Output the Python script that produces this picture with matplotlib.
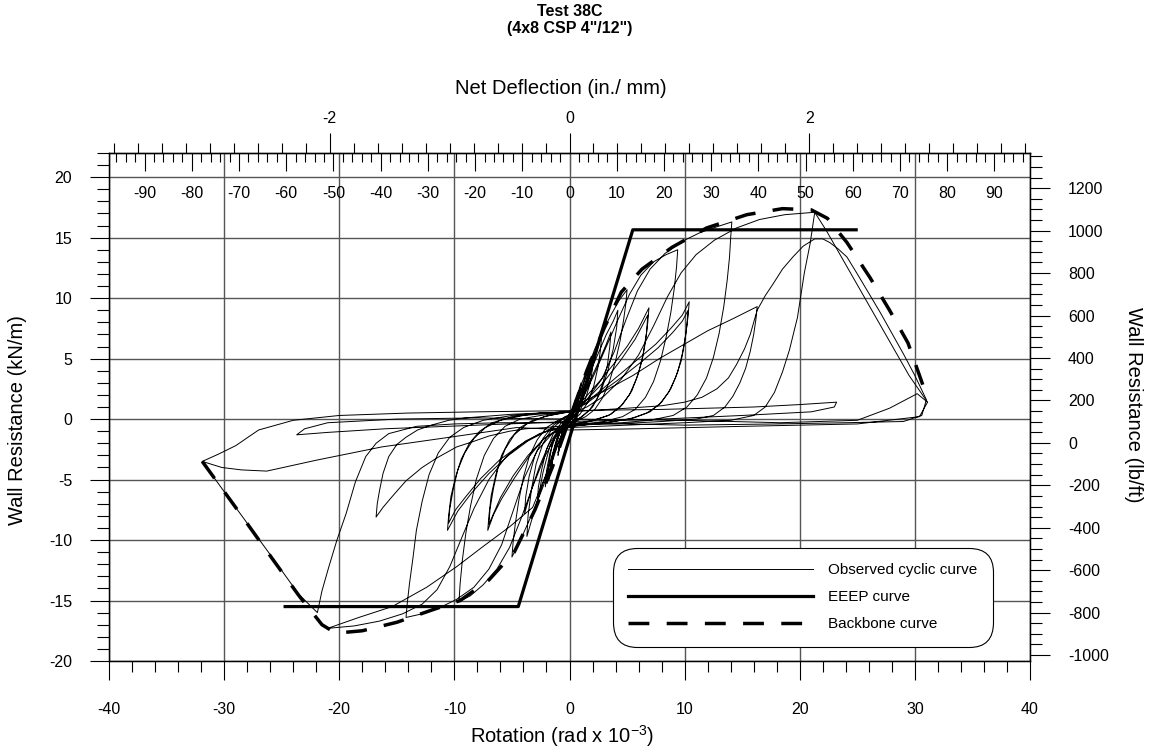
import numpy as np
import matplotlib.pyplot as plt
from matplotlib.ticker import MultipleLocator

plt.rcParams['font.family'] = ['Liberation Sans', 'DejaVu Sans']
plt.rcParams['mathtext.default'] = 'regular'
plt.rcParams['axes.unicode_minus'] = False

# wall height used to turn rotation into net deflection
WALL_H_MM = 2438.4

# cyclic test record, one list per cycle (rotation x1e-3 rad, kN/m)
loop_a = [(0, 0), (0.5, 1.6), (0.3, 0.5), (0, -0.1), (-0.3, -0.4), (-0.5, -1.5), (-0.3, -0.4), (0, 0.1),
          (0.5, 1.5), (0.3, 0.4), (-0.2, -0.3), (-0.5, -1.4), (-0.2, -0.2), (0.1, 0.2)]
loop_b = [(0.5, 1.4), (1.0, 3.0), (0.7, 1.3), (0.3, 0.3), (-0.3, -0.3), (-0.6, -1.2), (-1.0, -3.0),
          (-0.7, -1.3), (-0.3, -0.2), (0.2, 0.3), (0.6, 1.5), (1.0, 2.8), (0.6, 1.0), (0.1, 0.1),
          (-0.5, -0.5), (-1.0, -2.8), (-0.6, -1.0), (0, 0.2)]
loop_c = [(0.8, 1.8), (1.4, 3.6), (1.8, 5.0), (1.5, 3.0), (1.0, 1.2), (0.4, 0.2), (-0.4, -0.3),
          (-1.0, -1.4), (-1.5, -3.4), (-1.8, -5.0), (-1.5, -3.0), (-1.0, -1.2), (-0.4, -0.1), (0.3, 0.4),
          (0.9, 1.9), (1.4, 3.4), (1.7, 4.6), (1.4, 2.6), (0.8, 0.8), (0, -0.2), (-0.8, -1.0),
          (-1.4, -3.0), (-1.7, -4.6), (-1.3, -2.4), (-0.7, -0.6), (0.1, 0.3)]
loop_d = [(1.0, 1.6), (1.9, 4.0), (2.4, 5.6), (2.8, 7.0), (2.7, 5.8), (2.5, 4.4), (2.1, 2.7), (1.6, 1.4),
          (0.9, 0.4), (0.2, -0.2), (-0.8, -0.7), (-1.7, -2.2), (-2.3, -4.4), (-2.8, -6.9), (-2.7, -5.6),
          (-2.4, -4.1), (-2.0, -2.5), (-1.4, -1.2), (-0.7, -0.3), (0, 0.2)]
loop_e = [(1.0, 1.2), (1.7, 3.2), (2.1, 5.4), (2.0, 4.2), (1.8, 3.0), (1.4, 1.7), (0.9, 0.7), (0.3, 0.1),
          (-0.7, -0.6), (-1.5, -2.0), (-2.1, -5.6), (-2.0, -4.3), (-1.7, -2.8), (-1.2, -1.4), (-0.6, -0.4),
          (0, 0.3)]
loop_f = [(0.5, 1.4), (1.0, 2.8), (1.6, 4.3), (2.2, 5.8), (3.0, 7.5), (3.6, 8.6), (4.3, 9.8), (5.0, 10.7),
          (4.9, 9.6), (4.7, 8.2), (4.4, 6.5), (4.0, 4.8), (3.5, 3.2), (2.9, 1.8), (2.2, 0.8), (1.4, 0.2),
          (0.5, -0.2), (-0.3, -0.6), (-0.9, -1.8), (-1.6, -3.8), (-2.3, -5.6), (-3.0, -7.3), (-3.7, -8.8),
          (-4.4, -10.3), (-5.0, -11.4), (-4.9, -10.2), (-4.7, -8.6), (-4.4, -6.7), (-4.0, -4.8),
          (-3.5, -3.1), (-2.8, -1.7), (-2.0, -0.7), (-1.0, -0.1), (0, 0.3)]
loop_f2 = [(0.6, 1.2), (1.4, 3.0), (2.3, 5.0), (3.2, 7.0), (3.8, 8.1), (4.2, 9.0), (4.1, 7.6), (3.8, 5.8),
           (3.3, 3.9), (2.7, 2.2), (2.0, 1.0), (1.1, 0.2), (0.2, -0.3), (-0.7, -1.3), (-1.5, -3.2),
           (-2.3, -5.3), (-3.0, -7.4), (-3.7, -9.7), (-3.6, -8.0), (-3.3, -5.8), (-2.9, -3.7),
           (-2.3, -2.0), (-1.5, -0.8), (-0.6, 0.0), (0.2, 0.4)]
loop_g = [(1.0, 1.6), (1.9, 3.4), (2.7, 5.1), (3.2, 6.2), (3.6, 7.2), (3.5, 6.0), (3.3, 4.5), (2.9, 3.0),
          (2.4, 1.7), (1.7, 0.7), (0.9, 0.1), (0, -0.3), (-0.9, -0.8), (-1.8, -2.1), (-2.6, -3.9),
          (-3.3, -5.8), (-3.9, -7.8), (-3.8, -6.4), (-3.5, -4.7), (-3.0, -3.0), (-2.3, -1.6), (-1.4, -0.5),
          (-0.4, 0.2), (0.4, 0.5)]
loop_h = [(1.2, 1.8), (2.2, 3.8), (3.2, 6.0), (4.2, 8.2), (5.2, 10.3), (6.2, 11.9), (7.3, 13.0),
          (8.4, 13.6), (9.4, 14.0), (9.3, 12.6), (9.1, 10.8), (8.8, 8.8), (8.4, 6.8), (7.9, 4.8),
          (7.3, 3.1), (6.6, 1.8), (5.7, 0.8), (4.6, 0.2), (3.0, -0.2), (1.5, -0.4), (0, -0.6),
          (-1.2, -1.4), (-2.2, -3.2), (-3.2, -5.6), (-4.2, -8.2), (-5.2, -10.6), (-6.3, -12.4),
          (-7.5, -13.7), (-8.6, -14.6), (-9.6, -15.1), (-9.5, -13.6), (-9.3, -11.6), (-9.0, -9.4),
          (-8.6, -7.2), (-8.1, -5.0), (-7.4, -3.0), (-6.6, -1.6), (-5.6, -0.6), (-4.3, 0.0),
          (-2.5, 0.3), (-1.0, 0.5), (0, 0.6)]
loop_i = [(1.2, 1.6), (2.5, 3.0), (3.8, 4.5), (5.0, 6.0), (6.0, 7.5), (6.9, 9.2), (6.8, 8.0), (6.6, 6.4),
          (6.3, 4.8), (5.8, 3.3), (5.2, 2.0), (4.4, 1.0), (3.4, 0.3), (2.0, -0.1), (0.5, -0.4),
          (-1.0, -0.8), (-2.3, -1.7), (-3.6, -3.2), (-4.8, -4.9), (-5.9, -6.6), (-6.6, -7.9),
          (-7.1, -9.2), (-7.0, -8.0), (-6.8, -6.3), (-6.4, -4.6), (-5.9, -3.0), (-5.2, -1.7),
          (-4.3, -0.7), (-3.2, -0.1), (-1.8, 0.3), (-0.5, 0.5), (0.5, 0.7)]
loop_i2 = [(1.5, 1.6), (3.0, 3.1), (4.4, 4.8), (5.7, 6.6), (6.8, 8.6), (6.7, 7.2), (6.4, 5.4), (6.0, 3.8),
           (5.4, 2.3), (4.6, 1.2), (3.6, 0.4), (2.2, -0.1), (0.7, -0.4), (-0.8, -0.8), (-2.2, -1.6),
           (-3.6, -3.0), (-4.9, -4.7), (-6.0, -6.5), (-7.0, -8.7), (-6.9, -7.4), (-6.6, -5.7),
           (-6.2, -4.0), (-5.6, -2.5), (-4.8, -1.3), (-3.7, -0.4), (-2.2, 0.2), (-0.7, 0.5), (0.4, 0.7)]
loop_j = [(1.5, 1.6), (2.8, 3.3), (3.9, 5.6), (4.9, 8.2), (5.9, 10.6), (7.0, 12.4), (8.3, 13.7),
          (9.8, 14.7), (11.3, 15.4), (12.8, 15.9), (14.1, 16.3), (14.0, 15.0), (13.9, 13.4),
          (13.7, 11.5), (13.4, 9.3), (13.0, 7.1), (12.5, 5.1), (11.9, 3.4), (11.1, 2.0), (10.2, 1.0),
          (9.0, 0.3), (7.0, -0.1), (4.5, -0.3), (2.0, -0.4), (0, -0.6), (-1.5, -1.2), (-2.8, -2.6),
          (-3.9, -4.8), (-4.9, -7.6), (-5.9, -10.4), (-7.0, -12.4), (-8.3, -13.9), (-9.8, -14.9),
          (-11.3, -15.6), (-12.8, -16.1), (-14.2, -16.4), (-14.1, -15.3), (-13.9, -13.6),
          (-13.6, -11.5), (-13.3, -9.2), (-12.8, -6.8), (-12.2, -4.6), (-11.4, -2.8), (-10.4, -1.5),
          (-9.2, -0.7), (-7.5, -0.1), (-5.0, 0.3), (-2.5, 0.5), (0, 0.6)]
loop_k = [(1.5, 1.4), (3.0, 2.6), (4.5, 3.8), (6.0, 5.0), (7.5, 6.2), (8.8, 7.5), (9.8, 8.6), (10.4, 9.7),
          (10.3, 8.5), (10.1, 7.0), (9.8, 5.4), (9.4, 3.9), (8.8, 2.5), (8.0, 1.4), (7.0, 0.6),
          (5.6, 0.1), (3.8, -0.2), (1.8, -0.4), (0, -0.5), (-1.8, -0.9), (-3.6, -1.8), (-5.3, -3.0),
          (-7.0, -4.5), (-8.5, -6.1), (-9.7, -7.6), (-10.6, -9.2), (-10.5, -8.0), (-10.3, -6.4),
          (-9.9, -4.8), (-9.4, -3.3), (-8.7, -2.0), (-7.8, -1.0), (-6.7, -0.3), (-5.0, 0.2),
          (-2.5, 0.5), (0, 0.6)]
loop_k2 = [(1.5, 1.3), (3.0, 2.4), (4.6, 3.5), (6.2, 4.7), (7.7, 5.9), (9.0, 7.2), (9.8, 8.1),
           (10.3, 9.0), (10.2, 7.8), (10.0, 6.3), (9.7, 4.8), (9.2, 3.4), (8.6, 2.2), (7.8, 1.2),
           (6.7, 0.5), (5.2, 0.0), (3.2, -0.3), (1.2, -0.5), (-0.8, -0.7), (-2.6, -1.2), (-4.4, -2.2),
           (-6.1, -3.4), (-7.7, -4.9), (-9.0, -6.4), (-9.9, -7.5), (-10.5, -8.6), (-10.4, -7.4),
           (-10.1, -5.8), (-9.7, -4.2), (-9.1, -2.8), (-8.3, -1.6), (-7.3, -0.7), (-6.0, -0.1),
           (-4.0, 0.3), (-1.5, 0.5), (0.5, 0.6)]
loop_l = [(1.5, 1.0), (3.0, 1.9), (4.5, 3.3), (6.0, 5.3), (7.3, 7.7), (8.5, 10.1), (9.7, 12.1),
          (11.0, 13.6), (12.6, 14.8), (14.5, 15.8), (16.5, 16.5), (18.7, 16.9), (21.3, 17.1),
          (20.9, 14.5), (20.4, 12.1), (19.8, 8.4), (19.1, 5.7), (18.5, 3.9), (17.8, 2.2), (17.0, 1.0),
          (16.0, 0.3), (14.0, -0.1), (10.0, -0.3), (5.0, -0.5), (0, -0.7), (-2.0, -1.0), (-3.8, -1.8),
          (-5.5, -3.1), (-7.0, -5.0), (-8.3, -7.4), (-9.4, -9.9), (-10.4, -12.2), (-11.5, -14.1),
          (-12.8, -15.3), (-14.5, -16.1), (-16.5, -16.7), (-18.7, -17.1), (-21.0, -17.3),
          (-18.3, -16.4), (-15.4, -15.5), (-12.4, -13.9), (-9.8, -12.2), (-7.6, -10.6), (-5.2, -8.9),
          (-3.2, -7.3), (-2.0, -4.5), (-1.0, -1.5), (0, 0.5)]
loop_m = [(0.9, 1.3), (3.0, 2.3), (5.5, 3.6), (7.8, 5.0), (10.0, 6.2), (12.0, 7.3), (14.2, 8.3),
          (16.3, 9.3), (16.2, 8.3), (16.0, 7.0), (15.7, 5.6), (15.3, 4.2), (14.8, 3.0), (14.2, 1.9),
          (13.5, 1.0), (12.5, 0.3), (11.0, 0.0), (8.0, -0.2), (4.0, -0.4), (0, -0.5), (-2.0, -0.7),
          (-3.8, -0.8), (-5.2, -1.0), (-7.0, -1.4), (-8.5, -1.9), (-9.8, -2.3), (-11.5, -3.2),
          (-12.8, -4.0), (-14.2, -5.1), (-15.4, -6.4), (-16.2, -7.3), (-16.8, -8.1), (-16.7, -7.0),
          (-16.5, -5.9), (-16.2, -4.5), (-15.7, -3.1), (-15.0, -2.1), (-14.2, -1.5), (-13.2, -0.9),
          (-12.0, -0.5), (-10.5, -0.1), (-9.0, 0.1), (-5.0, 0.4), (0, 0.6)]
loop_n = [(5.0, 0.9), (8.0, 1.1), (10.0, 1.4), (11.5, 1.8), (12.8, 2.5), (13.8, 3.4), (14.5, 4.5),
          (15.2, 5.8), (15.7, 7.0), (16.3, 9.0), (17.0, 10.2), (17.7, 11.2), (18.5, 12.4), (19.4, 13.4),
          (20.3, 14.3), (21.3, 14.9), (22.0, 14.9), (22.6, 14.6), (23.3, 14.1), (24.1, 13.4),
          (25.0, 12.0), (26.0, 10.4), (27.0, 8.8), (28.0, 7.1), (29.0, 5.4), (30.0, 3.6), (31.0, 1.6),
          (30.6, 0.3), (29.0, -0.2), (24.0, -0.3), (18.0, -0.4), (10.0, -0.5), (0, -0.3), (-6.0, -0.3),
          (-10.0, -0.4), (-13.3, -0.6), (-15.7, -1.2), (-16.8, -2.0), (-17.7, -3.1), (-18.6, -5.2),
          (-19.4, -7.8), (-20.2, -10.0), (-20.9, -12.2), (-21.5, -14.2), (-21.9, -16.0), (-23.5, -14.5),
          (-26.0, -11.2), (-29.0, -7.3), (-31.9, -3.5), (-30.5, -2.9), (-29.0, -2.2), (-27.0, -0.9),
          (-24.0, -0.1), (-20.0, 0.3), (-14.0, 0.5), (-8.0, 0.6), (0, 0.7)]
loop_o = [(8.0, 0.8), (16.0, 1.0), (20.0, 1.2), (23.2, 1.4), (23.0, 1.0), (21.0, 0.6), (15.0, 0.3),
          (8.0, 0.0), (0, -0.2), (-8.0, -0.5), (-16.0, -0.8), (-21.0, -1.1), (-23.7, -1.3), (-23.0, -0.8),
          (-21.0, -0.3), (-15.0, 0.0), (-8.0, 0.1), (0, 0.0)]
loop_p = [(10.0, -0.1), (18.3, -0.3), (25.0, -0.1), (27.8, 0.9), (30.2, 2.1), (31.1, 1.4), (30.4, 0.2),
          (25.0, -0.4), (15.0, -0.6), (6.0, -0.8), (0, -0.9), (-4.6, -0.7), (-10.4, -1.5), (-16.3, -2.3),
          (-22.0, -3.4), (-26.3, -4.3), (-28.5, -4.2), (-30.2, -4.0), (-31.9, -3.5)]
# strength loss past the peak on the first large excursion
peak_drop = [(21.3, 17.1), (22.3, 15.6), (23.5, 13.6), (25.0, 11.1), (26.5, 8.6), (28.0, 6.1),
             (29.5, 3.6), (31.1, 1.4)]

# equivalent energy elastic-plastic curve
eeep_rot = [-24.7, -4.45, 5.5, 24.9]
eeep_res = [-15.5, -15.5, 15.65, 15.65]

# backbone (envelope) curve
bb_rot = [-31.9, -29.0, -26.0, -23.5, -21.5, -20.3, -18.0, -15.0, -12.0, -9.5, -7.0, -4.8, -3.0, -1.5, 0,
          1.5, 3.0, 4.5, 6.3, 8.9, 11.9, 15.4, 18.5, 21.0, 22.4, 24.1, 26.1, 27.8, 29.4, 30.7]
bb_res = [-3.5, -7.3, -11.3, -14.6, -17.0, -17.7, -17.5, -16.8, -15.8, -15.0, -13.3, -11.0, -7.5, -4.0, 0,
          4.0, 7.5, 10.5, 12.4, 14.2, 15.8, 16.9, 17.4, 17.3, 16.6, 14.6, 11.7, 9.0, 6.3, 2.8]

mm_labels = [-90, -80, -70, -60, -50, -40, -30, -20, -10, 0, 10, 20, 30, 40, 50, 60, 70, 80, 90]


def rot_to_mm(r):
    return np.asarray(r) * WALL_H_MM / 1000.0

def mm_to_rot(m):
    return np.asarray(m) * 1000.0 / WALL_H_MM

def rot_to_in(r):
    return rot_to_mm(r) / 25.4

def in_to_rot(i):
    return mm_to_rot(np.asarray(i) * 25.4)


cycles = np.vstack([loop_a, loop_b, loop_c, loop_d, loop_e, loop_f, loop_f2, loop_g, loop_h,
                    loop_i, loop_i2, loop_j, loop_k, loop_k2, loop_l, loop_m, loop_n, loop_o, loop_p])
drop = np.array(peak_drop)

fig = plt.figure(figsize=(11.52, 7.52), dpi=100)
ax = fig.add_axes([109 / 1152, 91 / 752, 921 / 1152, 508 / 752])

ax.plot(cycles[:, 0], cycles[:, 1], color='black', lw=0.7, zorder=3, label='Observed cyclic curve')
ax.plot(drop[:, 0], drop[:, 1], color='black', lw=0.7, zorder=3)
ax.plot(eeep_rot, eeep_res, color='black', lw=2.3, zorder=4, label='EEEP curve')
ax.plot(bb_rot, bb_res, color='black', lw=2.5, dashes=(6, 5), zorder=4, label='Backbone curve')

ax.set_xlim(-40, 40)
ax.set_ylim(-20, 22)
ax.xaxis.set_major_locator(MultipleLocator(10))
ax.xaxis.set_minor_locator(MultipleLocator(2))
ax.set_yticks(np.arange(-20, 21, 5))
ax.yaxis.set_minor_locator(MultipleLocator(1))
ax.grid(True, which='major', color='#555555', lw=1.0, zorder=1)
ax.tick_params(which='major', direction='out', length=13.5, width=0.8, labelsize=11.5)
ax.tick_params(axis='x', which='major', pad=16)
ax.tick_params(axis='y', which='major', pad=13)
ax.tick_params(axis='x', which='minor', direction='out', length=7.7, width=0.8)
ax.tick_params(axis='y', which='minor', direction='out', length=8.6, width=0.8)
for s in ax.spines.values():
    s.set_linewidth(1.0)

# deflection in millimetres printed inside the frame
for m in mm_labels:
    ax.text(mm_to_rot(m), 18.68, str(m), ha='center', va='center', fontsize=11.5, zorder=2)

# top axis: inches with labels, millimetre ticks hanging inside
sec_in = ax.secondary_xaxis('top', functions=(rot_to_in, in_to_rot))
sec_in.set_xticks([-2, 0, 2])
sec_in.xaxis.set_minor_locator(MultipleLocator(0.2))
sec_in.tick_params(which='major', direction='out', length=14.4, width=0.8, labelsize=11.5, pad=5)
sec_in.tick_params(which='minor', direction='out', length=7.2, width=0.8)

sec_mm = ax.secondary_xaxis('top', functions=(rot_to_mm, mm_to_rot))
sec_mm.xaxis.set_major_locator(MultipleLocator(10))
sec_mm.xaxis.set_minor_locator(MultipleLocator(2))
sec_mm.tick_params(which='major', direction='in', length=13, width=0.8, labeltop=False)
sec_mm.tick_params(which='minor', direction='in', length=6.5, width=0.8)

# right axis in lb/ft
axr = ax.twinx()
axr.set_ylim(-1028, 1366)
axr.set_yticks(np.arange(-1000, 1201, 200))
axr.yaxis.set_minor_locator(MultipleLocator(50))
axr.tick_params(which='major', direction='out', length=14.4, width=0.8, labelsize=11.5, pad=13)
axr.tick_params(which='minor', direction='out', length=8.6, width=0.8)

leg = ax.legend(loc='upper left', bbox_to_anchor=(613 / 1152, 204 / 752), bbox_transform=fig.transFigure,
                fontsize=11, handlelength=12.1, handletextpad=1.0, labelspacing=0.85, borderpad=1.0,
                borderaxespad=0, framealpha=1, edgecolor='black', fancybox=True)
leg.get_frame().set_boxstyle('round,pad=0,rounding_size=1.6')
leg.get_frame().set_linewidth(0.8)
leg.set_zorder(10)

fig.text(570 / 1152, 1 - 11 / 752, 'Test 38C', ha='center', va='center', fontsize=11.5, fontweight='bold')
fig.text(570 / 1152, 1 - 28 / 752, '(4x8 CSP 4"/12")', ha='center', va='center', fontsize=11.5,
         fontweight='bold')
fig.text(561 / 1152, 1 - 89 / 752, 'Net Deflection (in./ mm)', ha='center', va='center', fontsize=14.5)
fig.text(562 / 1152, 1 - 743 / 752, 'Rotation (rad x 10$^{-3}$)', ha='center', va='baseline', fontsize=14.5)
fig.text(18 / 1152, 1 - 420 / 752, 'Wall Resistance (kN/m)', rotation=90, ha='center', va='center',
         fontsize=14.5)
fig.text(1133 / 1152, 1 - 405 / 752, 'Wall Resistance (lb/ft)', rotation=270, ha='center', va='center',
         fontsize=14.5)

fig.savefig('out.png', dpi=100)
